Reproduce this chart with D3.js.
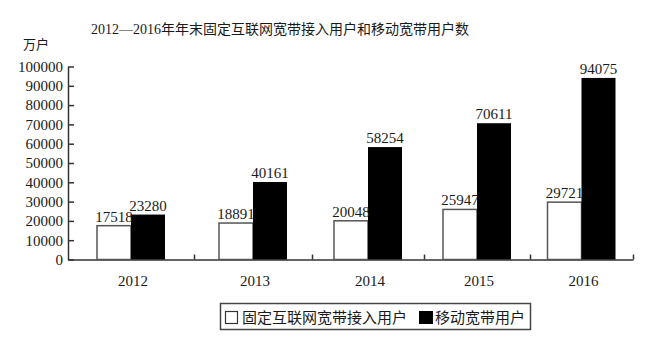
<!DOCTYPE html>
<html lang="zh">
<head>
  <meta charset="UTF-8">
  <title>固定互联网宽带接入用户和移动宽带用户数</title>
  <script src="https://cdnjs.cloudflare.com/ajax/libs/d3/7.8.5/d3.min.js"></script>
  <style>
    body { margin: 0; background: #fff; }
    text { font-family: "Liberation Serif", "Noto Sans CJK SC", serif; fill: #1a1a1a; }
  </style>
</head>
<body>
  <svg></svg>
  <script>
    const years = ['2012', '2013', '2014', '2015', '2016'];
    const fixedUsers = [17518, 18891, 20048, 25947, 29721];
    const mobileUsers = [23280, 40161, 58254, 70611, 94075];
    const yTicks = [0, 10000, 20000, 30000, 40000, 50000, 60000, 70000, 80000, 90000, 100000];

    const W = 653, H = 340;
    // band edges along the x axis (the scan is slightly skewed, so they are uneven)
    const edges = [68, 194, 312, 424, 530, 633];
    const barW = 34;

    const svg = d3.select('svg').attr('width', W).attr('height', H);

    const x = d3.scaleLinear().domain(d3.range(edges.length)).range(edges);
    const y = d3.scaleLinear().domain([0, 100000]).range([259.5, 66.5]);
    const center = i => (x(i) + x(i + 1)) / 2;

    // title + unit
    svg.append('text')
      .attr('x', 280).attr('y', 34)
      .attr('text-anchor', 'middle')
      .style('font-size', '14px')
      .text('2012—2016年年末固定互联网宽带接入用户和移动宽带用户数');

    svg.append('text')
      .attr('x', 36).attr('y', 49)
      .attr('text-anchor', 'middle')
      .style('font-size', '13px')
      .text('万户');

    // y axis
    const yAxis = svg.append('g')
      .attr('transform', 'translate(68,0)')
      .call(d3.axisLeft(y).tickValues(yTicks).tickFormat(d3.format('d'))
        .tickSizeInner(-6).tickSizeOuter(0).tickPadding(5));
    yAxis.select('.domain').attr('stroke', '#333').attr('stroke-width', 1.5);
    yAxis.selectAll('.tick line').attr('stroke', '#333').attr('stroke-width', 1.5);
    yAxis.selectAll('.tick text')
      .style('font-size', '15px')
      .style('font-family', '"Liberation Serif", serif')
      .attr('fill', '#1a1a1a');

    // x axis
    const xAxis = svg.append('g')
      .attr('transform', `translate(0,${y(0)})`)
      .call(d3.axisBottom(x).tickValues([1, 2, 3, 4, 5]).tickSizeInner(-5).tickSizeOuter(0).tickFormat(''));
    xAxis.select('.domain').attr('stroke', '#333').attr('stroke-width', 1.5);
    xAxis.selectAll('.tick line').attr('stroke', '#333').attr('stroke-width', 1.5);

    svg.append('g').selectAll('text')
      .data(years)
      .join('text')
      .attr('x', (d, i) => center(i) + 2)
      .attr('y', 286)
      .attr('text-anchor', 'middle')
      .style('font-size', '15px')
      .text(d => d);

    // bars
    svg.append('g').selectAll('rect')
      .data(fixedUsers)
      .join('rect')
      .attr('x', (d, i) => center(i) - barW)
      .attr('y', d => y(d))
      .attr('width', barW)
      .attr('height', d => y(0) - y(d))
      .attr('fill', '#fff')
      .attr('stroke', '#555')
      .attr('stroke-width', 1.5);

    svg.append('g').selectAll('rect')
      .data(mobileUsers)
      .join('rect')
      .attr('x', (d, i) => center(i))
      .attr('y', d => y(d))
      .attr('width', barW)
      .attr('height', d => y(0) - y(d))
      .attr('fill', '#000');

    // value labels
    svg.append('g').selectAll('text')
      .data(fixedUsers)
      .join('text')
      .attr('x', (d, i) => center(i) - barW / 2)
      .attr('y', d => y(d) - 4)
      .attr('text-anchor', 'middle')
      .style('font-size', '15px')
      .text(d => d);

    svg.append('g').selectAll('text')
      .data(mobileUsers)
      .join('text')
      .attr('x', (d, i) => center(i) + barW / 2)
      .attr('y', d => y(d) - 4)
      .attr('text-anchor', 'middle')
      .style('font-size', '15px')
      .text(d => d);

    // legend
    const lg = svg.append('g');
    lg.append('rect')
      .attr('x', 220.5).attr('y', 303.5)
      .attr('width', 310).attr('height', 26)
      .attr('fill', '#fff').attr('stroke', '#444').attr('stroke-width', 1.5);
    lg.append('rect')
      .attr('x', 225.5).attr('y', 311.5)
      .attr('width', 12).attr('height', 12)
      .attr('fill', '#fff').attr('stroke', '#333').attr('stroke-width', 1.2);
    lg.append('text')
      .attr('x', 242).attr('y', 322.5)
      .style('font-size', '15px')
      .text('固定互联网宽带接入用户');
    lg.append('rect')
      .attr('x', 419).attr('y', 311)
      .attr('width', 14).attr('height', 13)
      .attr('fill', '#000');
    lg.append('text')
      .attr('x', 435).attr('y', 322.5)
      .style('font-size', '15px')
      .text('移动宽带用户');
  </script>
</body>
</html>
